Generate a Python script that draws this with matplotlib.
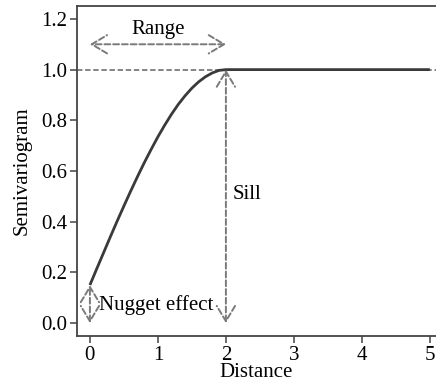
import matplotlib
matplotlib.use("Agg")
import matplotlib.pyplot as plt

distance = [0, 0.1, 0.2, 0.3, 0.4, 0.5, 0.6, 0.7, 0.8, 0.9, 1.0, 1.1, 1.2,
            1.3, 1.4, 1.5, 1.6, 1.7, 1.8, 1.9, 2.0, 5.0]
semivariance = [0.15, 0.214, 0.277, 0.340, 0.402, 0.462, 0.521, 0.578, 0.633,
                0.685, 0.735, 0.781, 0.824, 0.863, 0.897, 0.927, 0.952, 0.972,
                0.987, 0.997, 1.0, 1.0]
xticks = [0, 1, 2, 3, 4, 5]
yticks = [0.0, 0.2, 0.4, 0.6, 0.8, 1.0, 1.2]
nugget = 0.15
sill = 1.0
range_ = 2.0

plt.rcParams['font.family'] = ['Liberation Serif', 'DejaVu Serif']
fig = plt.figure(figsize=(4.36, 3.85), dpi=100)
ax = fig.add_axes([0.1766, 0.1273, 0.8234, 0.8571])

gray = '#7a7a7a'
dark = '#3a3a3a'

ax.axhline(sill, color=gray, lw=1.3, ls=(0, (3, 1.5)), zorder=1)
ax.plot(distance, semivariance, color=dark, lw=2.0, zorder=2, solid_capstyle='butt')

ap = dict(arrowstyle='<->, head_length=0.5, head_width=0.3',
          linestyle=(0, (3, 1.5)), color=gray, lw=1.4,
          mutation_scale=22, shrinkA=0, shrinkB=0)
ax.annotate('', xy=(0, 1.1), xytext=(range_, 1.1), arrowprops=ap)
ax.annotate('', xy=(range_, sill), xytext=(range_, 0.0), arrowprops=ap)
ax.annotate('', xy=(0, nugget), xytext=(0, 0.0), arrowprops=ap)

fs = 15
ax.text(1.0, 1.16, 'Range', ha='center', va='center', fontsize=fs)
ax.text(2.1, 0.506, 'Sill', ha='left', va='center', fontsize=fs)
ax.text(0.13, 0.072, 'Nugget effect', ha='left', va='center', fontsize=fs)

ax.set_xlim(-0.19, 5.09)
ax.set_ylim(-0.051, 1.251)
ax.set_xticks(xticks)
ax.set_yticks(yticks)
ax.set_yticklabels([f'{v:.1f}' for v in yticks])
ax.tick_params(labelsize=fs, length=5, width=1.1, color='#444444', pad=2)
for s in ['left', 'bottom', 'top']:
    ax.spines[s].set_color('#444444')
    ax.spines[s].set_linewidth(1.3)
ax.spines['right'].set_visible(False)
ax.set_xlabel('Distance', fontsize=fs, labelpad=-1)
ax.set_ylabel('Semivariogram', fontsize=fs, labelpad=7)

fig.savefig('out.png', dpi=100)
